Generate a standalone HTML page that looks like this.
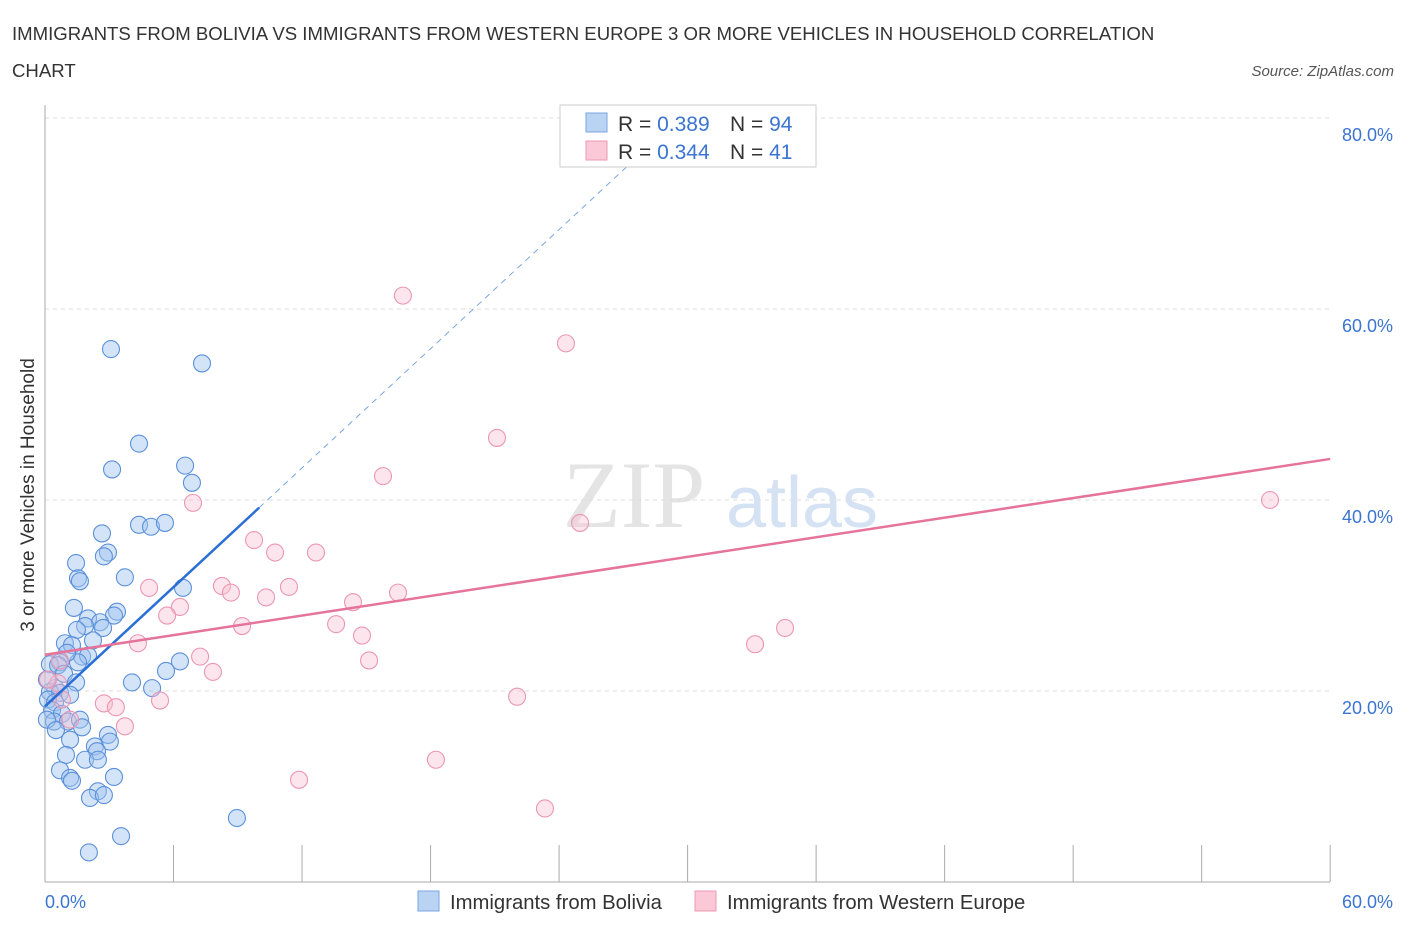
<!DOCTYPE html>
<html><head><meta charset="utf-8"><style>
body{margin:0;background:#fff;font-family:"Liberation Sans",sans-serif;}
svg text{font-family:"Liberation Sans",sans-serif;}
</style></head><body>
<svg id="c" width="1406" height="930" xmlns="http://www.w3.org/2000/svg">
<text x="12" y="40" font-size="18.6" fill="#333">IMMIGRANTS FROM BOLIVIA VS IMMIGRANTS FROM WESTERN EUROPE 3 OR MORE VEHICLES IN HOUSEHOLD CORRELATION</text>
<text x="12" y="77" font-size="18.6" fill="#333">CHART</text>
<text x="1394" y="76" font-size="15" fill="#555" font-style="italic" text-anchor="end">Source: ZipAtlas.com</text>
<g>
<text x="634" y="527" font-size="95" fill="#e4e4e4" text-anchor="middle" style="font-family:'Liberation Serif',serif">ZIP</text>
<text x="802" y="527" font-size="72" fill="#d4e2f4" text-anchor="middle">atlas</text>
</g>
<g id="grid"></g>
<g id="axes"></g>
<g id="marks"></g>
<text transform="translate(34,495) rotate(-90)" font-size="19" fill="#333" text-anchor="middle">3 or more Vehicles in Household</text>
<g>
<rect x="560" y="105" width="256" height="62" fill="#fff" stroke="#ccc"/>
<rect x="586" y="113" width="21" height="19" fill="#b9d3f3" stroke="#7aa6e0"/>
<rect x="586" y="141" width="21" height="19" fill="#fbc8d7" stroke="#ec9ab5"/>
<text x="618" y="131" font-size="21" fill="#333">R = <tspan fill="#3b74d1">0.389</tspan></text>
<text x="730" y="131" font-size="21" fill="#333">N = <tspan fill="#3b74d1">94</tspan></text>
<text x="618" y="159" font-size="21" fill="#333">R = <tspan fill="#3b74d1">0.344</tspan></text>
<text x="730" y="159" font-size="21" fill="#333">N = <tspan fill="#3b74d1"> 41</tspan></text>
</g>
<g>
<rect x="418" y="891" width="21" height="20" fill="#b9d3f3" stroke="#7aa6e0"/>
<text x="450" y="909" font-size="20.3" fill="#333">Immigrants from Bolivia</text>
<rect x="695" y="891" width="21" height="20" fill="#fbc8d7" stroke="#ec9ab5"/>
<text x="727" y="909" font-size="20.3" fill="#333">Immigrants from Western Europe</text>
</g>
</svg>
<script>
const yTicks=[20,40,60,80];
const yTickLabels=["20.0%","40.0%","60.0%","80.0%"];
const xTickVals=[0,6,12,18,24,30,36,42,48,54,60];
const blueX=[3.08,7.33,4.39,3.13,6.54,6.86,4.39,4.95,5.60,2.66,2.94,2.75,3.73,1.45,1.54,1.63,6.44,1.35,2.01,3.36,3.22,2.57,2.71,1.87,1.49,0.93,1.26,2.24,1.73,2.01,1.54,1.03,0.70,0.23,0.61,0.89,1.45,6.30,5.65,4.06,5.00,0.47,0.23,0.70,0.14,0.47,1.17,0.33,0.79,0.42,1.07,1.63,1.73,2.94,3.03,1.17,2.33,2.43,0.98,1.87,2.47,0.70,1.17,1.26,3.22,2.47,2.10,2.75,3.55,2.05,8.96,0.09,0.09,0.51];
const blueY=[55.8,54.3,45.9,43.2,43.6,41.8,37.4,37.2,37.6,36.5,34.5,34.1,31.9,33.4,31.8,31.5,30.8,28.7,27.6,28.3,27.9,27.2,26.6,26.8,26.4,25.0,24.8,25.3,23.6,23.7,23.0,24.0,23.0,22.8,22.7,21.8,20.9,23.1,22.1,20.9,20.3,20.3,19.9,19.8,19.1,18.8,19.6,18.0,17.6,16.8,16.8,17.0,16.2,15.4,14.7,14.9,14.2,13.7,13.3,12.8,12.8,11.7,10.9,10.6,11.0,9.5,8.8,9.1,4.8,3.1,6.7,21.2,17.0,15.9];
const pinkX=[16.71,24.32,21.10,15.78,6.91,24.98,57.19,9.76,10.74,12.65,8.26,4.86,8.68,10.32,11.39,16.48,14.38,6.30,5.70,9.20,13.59,14.80,4.34,7.24,7.84,15.13,33.15,34.55,22.04,5.37,2.75,3.31,3.73,18.25,11.86,23.34,0.61,0.79,1.17,0.70,0.14];
const pinkY=[61.4,56.4,46.5,42.5,39.7,37.6,40.0,35.8,34.5,34.5,31.0,30.8,30.3,29.8,30.9,30.3,29.3,28.8,27.9,26.8,27.0,25.8,25.0,23.6,22.0,23.2,24.9,26.6,19.4,19.0,18.7,18.3,16.3,12.8,10.7,7.7,20.8,19.1,17.0,23.2,21.2];
const blueTrend=[18.4,39.2]; // y at x=0 and x=10
const pinkTrend=[23.8,44.3]; // y at x=0 and x=60
const NS="http://www.w3.org/2000/svg";
const X=v=>45+v*21.42, Y=v=>882-v*9.55;
function mk(t,a,p){const e=document.createElementNS(NS,t);for(const k in a)e.setAttribute(k,a[k]);document.getElementById(p).appendChild(e);return e;}
yTicks.forEach((v,i)=>{
 const l=mk('line',{x1:45,x2:1330,y1:Y(v),y2:Y(v),stroke:'#ddd','stroke-dasharray':'4,4'},'grid');
 
 
 const t=mk('text',{x:1393,y:Y(v)+23,'font-size':18,fill:'#3b74d1','text-anchor':'end'},'axes');
 t.textContent=yTickLabels[i];
 
 
});
let a=mk('line',{x1:45,x2:45,y1:105,y2:882,stroke:'#aaa'},'axes');


a=mk('line',{x1:45,x2:1330,y1:882,y2:882,stroke:'#aaa'},'axes');


xTickVals.forEach(v=>{
 const t=mk('line',{x1:X(v),x2:X(v),y1:845,y2:882,stroke:'#aaa'},'axes');
 
 
});
let t=mk('text',{x:45,y:908,'font-size':18,fill:'#3b74d1'},'axes');t.textContent='0.0%';


t=mk('text',{x:1393,y:908,'font-size':18,fill:'#3b74d1','text-anchor':'end'},'axes');t.textContent='60.0%';


blueX.forEach((x,i)=>{
 const c=mk('circle',{cx:X(x),cy:Y(blueY[i]),r:8.5,fill:'rgba(160,196,240,0.45)',stroke:'#5b90da','stroke-width':1.1},'marks');
 
 
});
pinkX.forEach((x,i)=>{
 const c=mk('circle',{cx:X(x),cy:Y(pinkY[i]),r:8.5,fill:'rgba(247,190,208,0.4)',stroke:'#eb97b2','stroke-width':1.1},'marks');
 
 
});
const bs=(blueTrend[1]-blueTrend[0])/10;
const xe=(75.6-blueTrend[0])/bs;
let l=mk('line',{x1:X(10),y1:Y(blueTrend[1]),x2:X(xe),y2:Y(blueTrend[0]+bs*xe),stroke:'#7aa6e0','stroke-width':1,'stroke-dasharray':'6,5'},'marks');


l=mk('line',{x1:X(0),y1:Y(blueTrend[0]),x2:X(10),y2:Y(blueTrend[1]),stroke:'#2a6fd6','stroke-width':2.5},'marks');


l=mk('line',{x1:X(0),y1:Y(pinkTrend[0]),x2:X(60),y2:Y(pinkTrend[1]),stroke:'#e5739a','stroke-width':2.5},'marks');


</script>
</body></html>
